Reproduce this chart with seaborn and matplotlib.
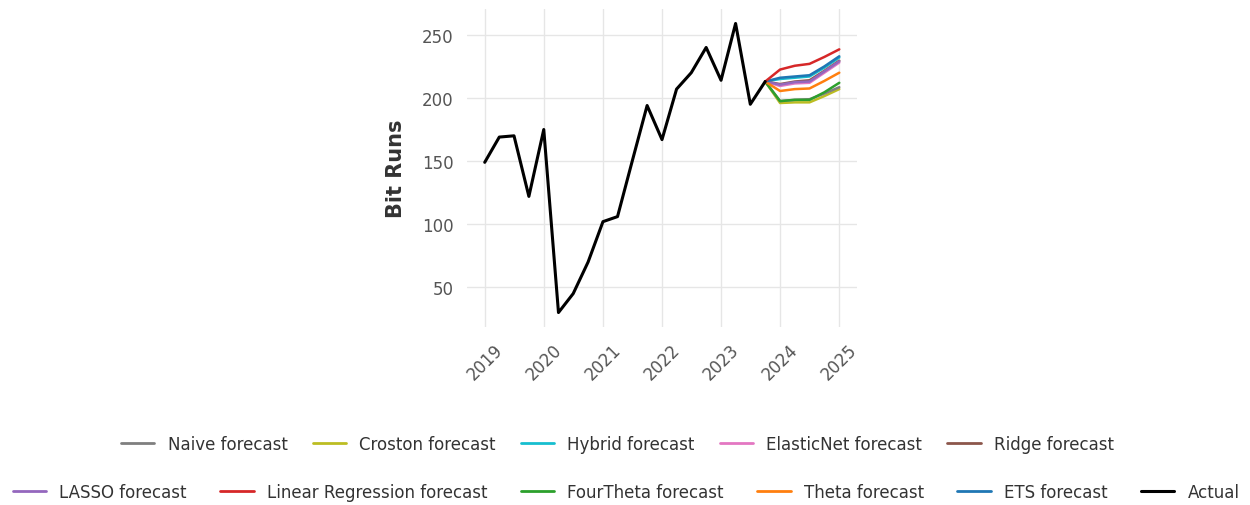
import matplotlib
matplotlib.use("Agg")
import matplotlib.pyplot as plt
import matplotlib.dates as mdates
import numpy as np
import pandas as pd
import seaborn as sns

# Quarterly actual bit runs
actual_dates = pd.date_range("2019-01-01", "2023-10-01", freq="QS")
actual_values = [149, 169, 170, 122, 175, 30, 45, 70, 102, 106, 150, 194,
                 167, 207, 220, 240, 214, 259, 195, 213]

# Forecast horizon (starting from the last actual quarter)
forecast_dates = pd.date_range("2023-10-01", "2025-01-01", freq="QS")
naive_fc = [213, 197.5, 198.5, 199, 203.5, 208.5]
croston_fc = [213, 196, 196.5, 196.5, 201.5, 207]
hybrid_fc = [213, 215, 216, 217, 224, 232]
elasticnet_fc = [213, 209.5, 211.5, 212, 220, 228]
ridge_fc = [213, 211, 213, 214, 221.5, 229.5]
lasso_fc = [213, 210.5, 212.5, 213, 221, 229]
linreg_fc = [213, 222.5, 225.5, 227, 232.5, 238.5]
fourtheta_fc = [213, 197.5, 198.5, 198.5, 204.5, 212]
theta_fc = [213, 205.5, 207, 207.5, 213.5, 220]
ets_fc = [213, 216, 217, 218, 225, 233]

labels_row1 = ["Naive forecast", "Croston forecast", "Hybrid forecast",
               "ElasticNet forecast", "Ridge forecast"]
labels_row2 = ["LASSO forecast", "Linear Regression forecast",
               "FourTheta forecast", "Theta forecast", "ETS forecast", "Actual"]

colors_row1 = ["#7f7f7f", "#bcbd22", "#17becf", "#e377c2", "#8c564b"]
colors_row2 = ["#9467bd", "#d62728", "#2ca02c", "#ff7f0e", "#1f77b4"]

sns.set_style("whitegrid")
plt.rcParams["font.family"] = ["DejaVu Sans"]

fig = plt.figure(figsize=(12.5, 5.06), dpi=100)
ax = fig.add_axes([0.3736, 0.3518, 0.312, 0.6284])

# Forecast lines (drawn so the blue/orange/green ones sit on top)
draw_order = [
    (croston_fc, "#bcbd22"), (naive_fc, "#7f7f7f"), (hybrid_fc, "#17becf"),
    (ridge_fc, "#8c564b"), (elasticnet_fc, "#e377c2"), (lasso_fc, "#9467bd"),
    (fourtheta_fc, "#2ca02c"), (theta_fc, "#ff7f0e"), (ets_fc, "#1f77b4"),
    (linreg_fc, "#d62728"),
]
for vals, col in draw_order:
    sns.lineplot(x=forecast_dates, y=vals, color=col, linewidth=1.8, ax=ax)

sns.lineplot(x=actual_dates, y=actual_values, color="black", linewidth=2.2, ax=ax)

handles1 = [plt.Line2D([], [], color=c, linewidth=2.0, label=l)
            for l, c in zip(labels_row1, colors_row1)]
handles2 = [plt.Line2D([], [], color=c, linewidth=2.0, label=l)
            for l, c in zip(labels_row2[:-1], colors_row2)]
handles2.append(plt.Line2D([], [], color="black", linewidth=2.2, label="Actual"))

for s in ax.spines.values():
    s.set_visible(False)

ax.grid(True, color="#e6e6e6", linewidth=1.0)
ax.set_yticks([50, 100, 150, 200, 250])
ax.xaxis.set_major_locator(mdates.YearLocator())
ax.xaxis.set_major_formatter(mdates.DateFormatter("%Y"))
ax.tick_params(axis="both", which="major", length=6, width=0.8,
               color="#bbbbbb", labelcolor="#555555", labelsize=12)
plt.setp(ax.get_xticklabels(), rotation=45)
ax.set_xlabel("")
ax.set_ylabel("Bit Runs", fontsize=15, fontweight="bold", color="#333333",
              labelpad=12)

leg1 = fig.legend(handles=handles1, loc="center", bbox_to_anchor=(0.494, 0.121),
                  ncol=5, frameon=False, fontsize=12, columnspacing=1.5)
leg2 = fig.legend(handles=handles2, loc="center", bbox_to_anchor=(0.501, 0.026),
                  ncol=6, frameon=False, fontsize=12, columnspacing=2.0)
for leg in (leg1, leg2):
    for t in leg.get_texts():
        t.set_color("#333333")

fig.savefig("out.png", dpi=100)
